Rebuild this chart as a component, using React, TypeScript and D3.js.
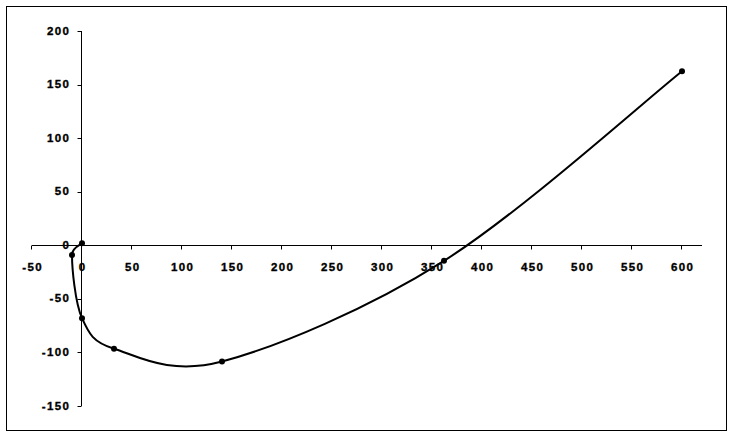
import React from "react";
import * as d3 from "d3";

const xValues = [0, -10, 0, 32, 140, 362, 600];
const yValues = [2, -9, -68, -96.5, -108.5, -14.5, 162.5];
const xTicks = [-50, 0, 50, 100, 150, 200, 250, 300, 350, 400, 450, 500, 550, 600];
const yTicks = [-150, -100, -50, 0, 50, 100, 150, 200];

const W = 733;
const H = 437;

// Excel-like smoothed line: Bezier with 1/6 tangents, clipped on short segments
function smoothPath(p: [number, number][]): string {
  const path = d3.path();
  const n = p.length;
  const tan = p.map((_, i) => {
    const a = p[Math.max(0, i - 1)];
    const b = p[Math.min(n - 1, i + 1)];
    return [(b[0] - a[0]) / 6, (b[1] - a[1]) / 6];
  });
  const clip = (t: number[], len: number) => {
    const l = Math.hypot(t[0], t[1]);
    const m = len * 0.5;
    return l > m && l > 0 ? [(t[0] * m) / l, (t[1] * m) / l] : t;
  };
  path.moveTo(p[0][0], p[0][1]);
  for (let i = 0; i < n - 1; i++) {
    const a = p[i];
    const b = p[i + 1];
    const len = Math.hypot(b[0] - a[0], b[1] - a[1]);
    const t1 = clip(tan[i], len);
    const t2 = clip(tan[i + 1], len);
    path.bezierCurveTo(a[0] + t1[0], a[1] + t1[1], b[0] - t2[0], b[1] - t2[1], b[0], b[1]);
  }
  return path.toString();
}

export default function App() {
  const x = d3.scaleLinear().domain([-50, 620]).range([32, 702]);
  const y = d3.scaleLinear().domain([-150, 200]).range([406, 31]);
  const pts: [number, number][] = xValues.map((v, i) => [x(v), y(yValues[i])]);
  const x0 = Math.round(x(0)) - 0.5;
  const y0 = Math.round(y(0)) + 0.5;
  const font = {
    fontFamily: "'Liberation Sans', Arial, sans-serif",
    fontWeight: 700 as const,
    fontSize: 11.5,
    letterSpacing: 1.4,
    stroke: "#000",
    strokeWidth: 0.35,
  };
  return (
    <svg
      width={W}
      height={H}
      style={{ position: "absolute", left: 0, top: 0, background: "#fff" }}
    >
      <rect x={6.5} y={6.5} width={720} height={424} fill="#fff" stroke="#000" strokeWidth={1} />
      {/* x axis */}
      <line x1={x(-50)} x2={x(620)} y1={y0} y2={y0} stroke="#000" strokeWidth={1} />
      {xTicks.map((t) => (
        <g key={"xt" + t}>
          <line
            x1={Math.round(x(t)) - 0.5}
            x2={Math.round(x(t)) - 0.5}
            y1={y0}
            y2={y0 + 4}
            stroke="#000"
            strokeWidth={1}
          />
          <text x={x(t) + 0.7} y={270.5} textAnchor="middle" {...font}>
            {t}
          </text>
        </g>
      ))}
      {/* y axis */}
      <line x1={x0} x2={x0} y1={y(-150)} y2={y(200)} stroke="#000" strokeWidth={1} />
      {yTicks.map((t) => (
        <g key={"yt" + t}>
          <line
            x1={x0 - 4}
            x2={x0}
            y1={Math.round(y(t)) + 0.5}
            y2={Math.round(y(t)) + 0.5}
            stroke="#000"
            strokeWidth={1}
          />
          <text x={70.4} y={y(t) + 3.5} textAnchor="end" {...font}>
            {t}
          </text>
        </g>
      ))}
      <path d={smoothPath(pts)} fill="none" stroke="#000" strokeWidth={2} />
      {pts.map((d, i) => (
        <circle key={"p" + i} cx={d[0]} cy={d[1]} r={3} fill="#000" />
      ))}
    </svg>
  );
}
